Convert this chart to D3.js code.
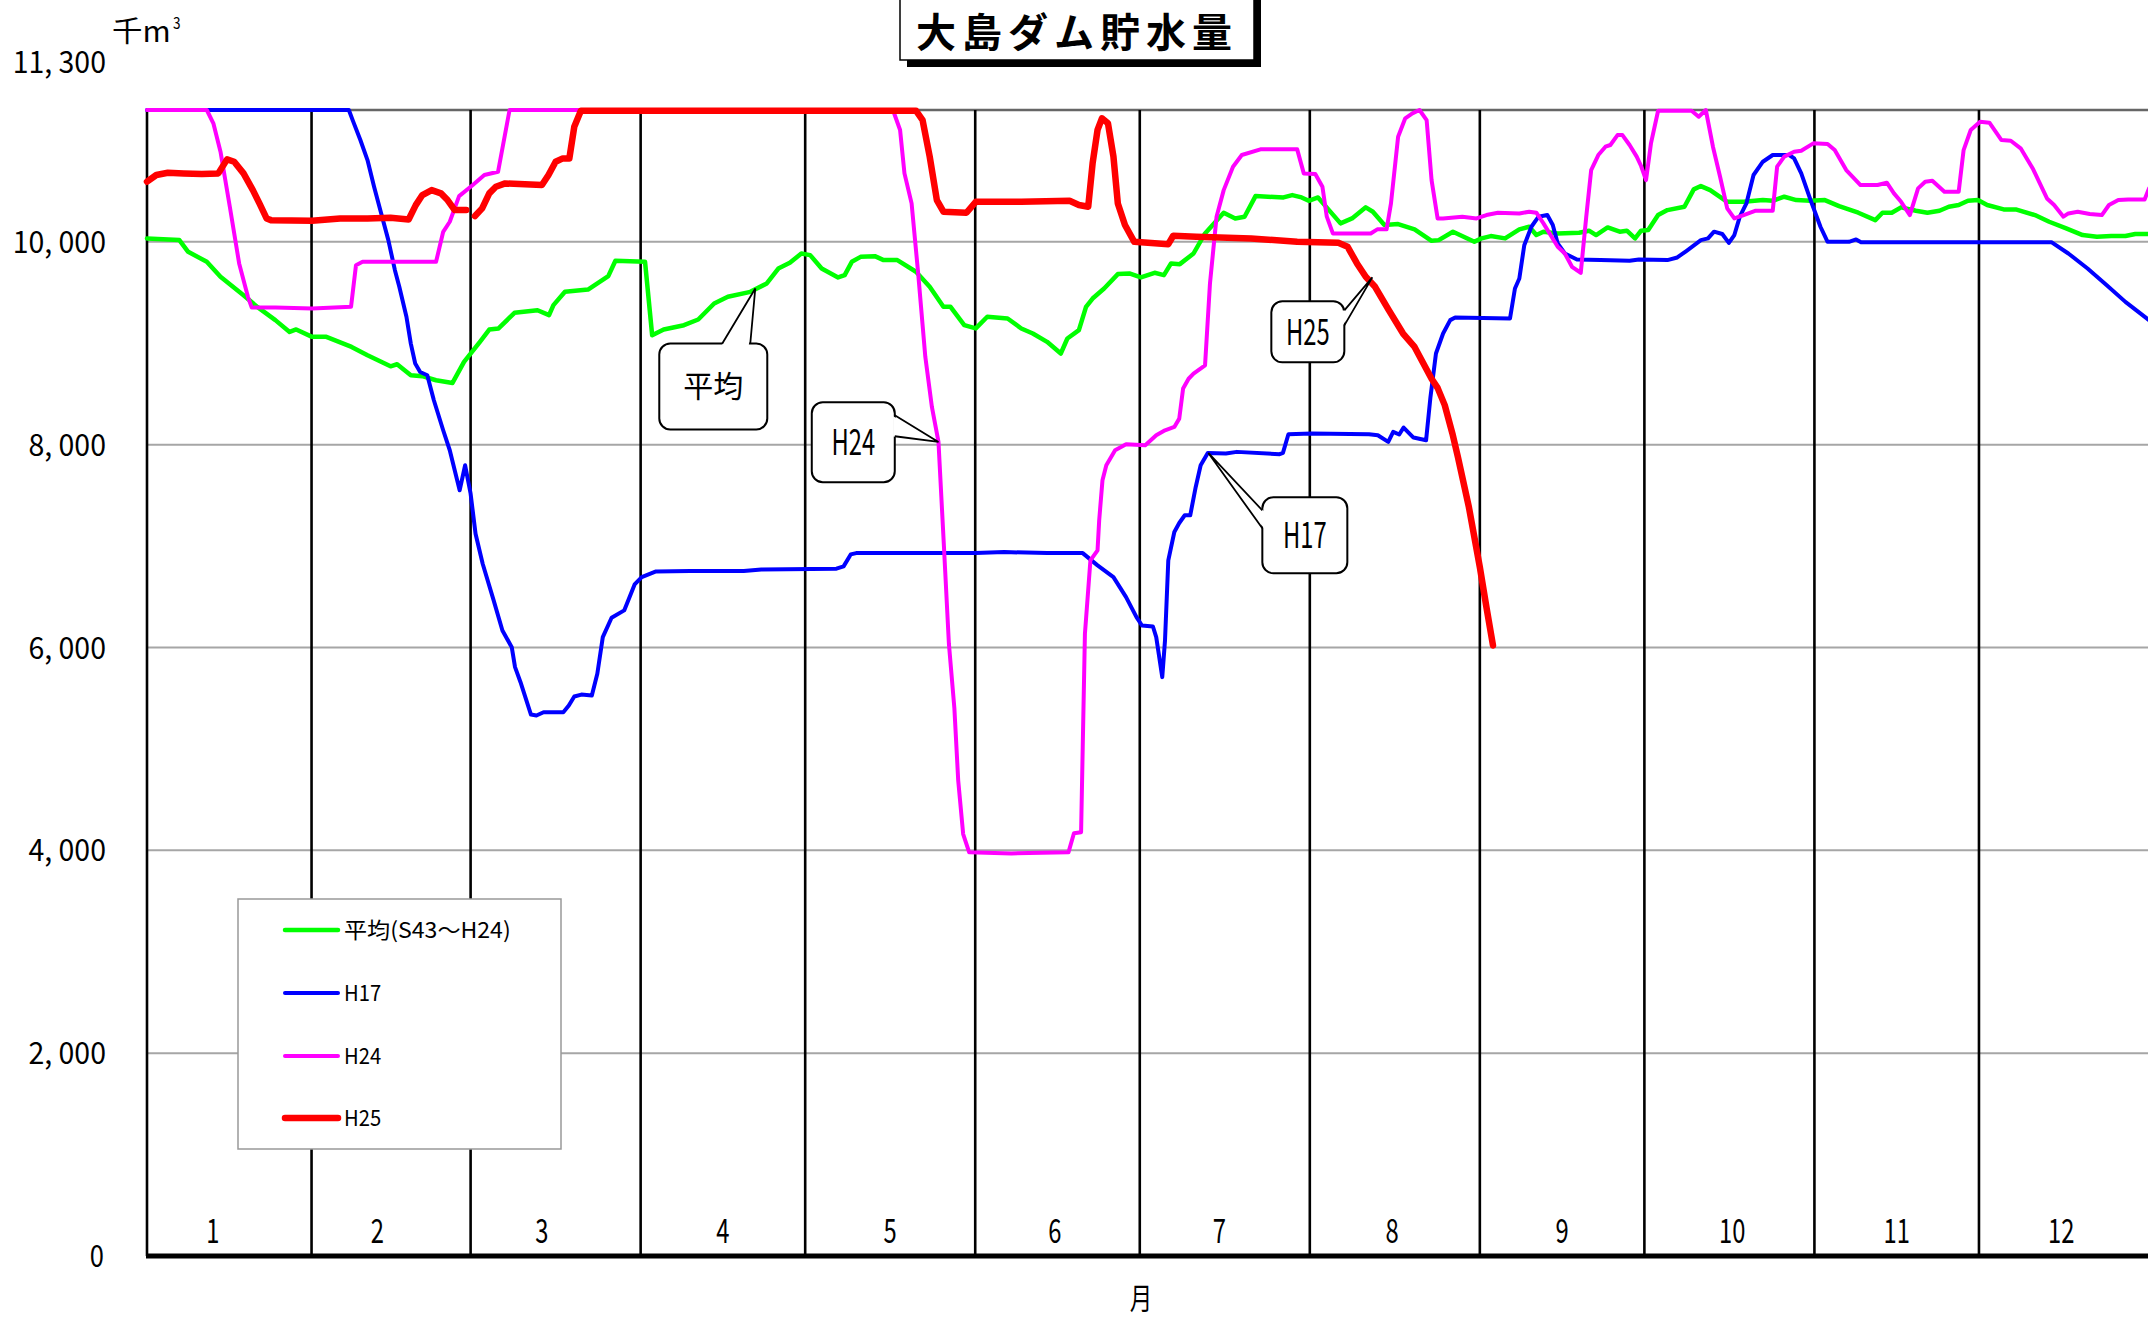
<!DOCTYPE html>
<html><head><meta charset="utf-8">
<script src="https://cdnjs.cloudflare.com/ajax/libs/d3/7.8.5/d3.min.js"></script>
<style>body{margin:0;background:#fff;}svg{display:block;}</style>
</head><body>
<script>
// ---------- DATA ----------
const monthBoundaryDays = [0,30,59,90,120,151,181,212,243,273,304,334];
const monthLabels = ["1","2","3","4","5","6","7","8","9","10","11","12"];
const monthLabelDays = [12,42,72,105,135.5,165.5,195.5,227,258,289,319,349];
const yTicks = [0,2000,4000,6000,8000,10000,11300];

const avgSeries = [[0,10034],[5.9,10017],[7.5,9902],[10.9,9803],[13.4,9655],[17.6,9474],[20.1,9359],[23.4,9228],[26,9112],[27.2,9136],[30.1,9063],[32.7,9063],[37.3,8964],[40.2,8882],[44.4,8773],[45.6,8793],[48.1,8685],[50.2,8675],[52.7,8635],[55.7,8609],[57.8,8816],[60.7,9014],[62.4,9135],[64.1,9146],[67,9300],[71.2,9326],[73.3,9277],[74.1,9376],[76.2,9507],[80.4,9530],[84.1,9662],[85.4,9813],[90.8,9803],[92.1,9079],[94.2,9136],[97.9,9178],[100.5,9234],[103.4,9392],[105.9,9458],[110,9507],[113,9590],[115.1,9737],[117.2,9793],[119.3,9885],[120.9,9869],[123,9737],[126,9649],[127.2,9672],[128.5,9803],[130.1,9852],[132.7,9859],[134.3,9820],[136.8,9820],[140.2,9705],[142.7,9557],[145.2,9359],[146.5,9359],[149,9178],[151.1,9146],[153.2,9261],[156.9,9244],[159.4,9146],[161.5,9096],[164.1,9014],[166.6,8899],[167.8,9047],[169.9,9129],[171.2,9359],[172.4,9441],[174.5,9540],[177,9682],[179.1,9688],[181.2,9649],[183.7,9695],[185.4,9672],[186.7,9787],[188.3,9780],[190.8,9885],[192.9,10083],[196.3,10287],[198.4,10231],[200.1,10248],[202.1,10451],[207.2,10438],[208.8,10461],[210.5,10438],[211.8,10405],[213.5,10438],[215.5,10313],[217.6,10182],[219.7,10231],[222.2,10340],[223.5,10297],[225.6,10166],[228.1,10175],[231.1,10123],[234.2,10010],[235.5,10017],[238.1,10100],[242,10000],[243.3,10034],[245,10057],[247.6,10034],[250.2,10123],[252,10149],[253.3,10067],[254.6,10100],[257.2,10083],[261.1,10090],[262.9,10110],[264.2,10067],[266.3,10142],[268.5,10100],[269.8,10110],[271.3,10034],[272.4,10110],[273.7,10116],[275.5,10264],[277.2,10313],[280.3,10346],[282,10517],[283.3,10550],[285,10510],[288.1,10395],[291.1,10395],[294.6,10412],[296.4,10405],[298.5,10445],[300.7,10412],[303.3,10405],[305.9,10412],[308.5,10352],[312,10287],[315.1,10214],[316.4,10287],[318.1,10287],[319.8,10340],[322.5,10307],[324.6,10287],[326.8,10307],[328.5,10346],[330.3,10363],[332,10405],[333.8,10412],[335.5,10363],[338.5,10320],[340.7,10320],[344.2,10264],[346.8,10198],[349.9,10133],[352.9,10067],[355.5,10050],[358.1,10057],[360.7,10057],[362.5,10077],[365,10077]];

const h17Series = [[0,11300],[36.8,11300],[37.6,11185],[38.9,11004],[40.2,10806],[41.4,10543],[42.7,10280],[44,10017],[45.2,9721],[46,9557],[47.3,9261],[48.1,8997],[48.9,8800],[49.8,8717],[51.1,8685],[52.3,8438],[54,8142],[55.2,7945],[56.1,7747],[57,7550],[58,7797],[59,7517],[59.9,7122],[61.2,6826],[63.2,6464],[64.8,6168],[66.5,6003],[67.1,5806],[68.1,5658],[70,5339],[71,5330],[72.3,5362],[75.9,5362],[76.9,5428],[77.9,5517],[79.2,5536],[81.1,5527],[82.1,5741],[83.1,6102],[84.7,6293],[87,6366],[88.9,6622],[90.2,6694],[92.8,6750],[99,6754],[108.8,6754],[112,6770],[125.7,6777],[127,6800],[128.3,6918],[129.3,6931],[138.1,6931],[151.1,6931],[156.3,6941],[164.1,6931],[170.6,6931],[173.3,6810],[176.2,6694],[178.5,6497],[180.4,6300],[181.4,6217],[183.4,6207],[184,6102],[185.1,5708],[185.6,6069],[186.2,6859],[187.3,7139],[188.2,7228],[189.2,7304],[190.2,7304],[191.2,7583],[192.1,7797],[193.4,7919],[196.7,7913],[198.7,7929],[206.5,7906],[207.1,7919],[208.1,8103],[212.3,8109],[222.8,8103],[224.4,8093],[226.3,8027],[227.2,8126],[228.3,8100],[229.1,8169],[230.9,8070],[233.2,8043],[234,8471],[235,8899],[236.3,9096],[237.6,9228],[238.5,9254],[248.5,9244],[249.4,9540],[250.2,9639],[251.1,9967],[252.4,10149],[253.7,10248],[255.3,10264],[256.3,10166],[257.2,9984],[258.5,9885],[260.7,9826],[265,9820],[270.3,9813],[272,9826],[277.2,9820],[279,9846],[280.7,9912],[283.3,10017],[284.6,10034],[285.7,10100],[287.2,10077],[288.4,9990],[289.4,10067],[290.4,10248],[291.6,10379],[292.9,10659],[294.6,10790],[296.4,10856],[299.4,10856],[300.3,10823],[301.6,10675],[303.3,10412],[305.1,10149],[306.4,10000],[310.3,10000],[311.6,10024],[312.5,9997],[347.2,9997],[350.3,9885],[353.8,9737],[357.3,9573],[360.7,9408],[365,9228]];

const h24Series = [[0,11300],[10.9,11300],[12.1,11169],[13.4,10889],[15.1,10346],[16.8,9787],[18.4,9458],[19.1,9352],[23.4,9352],[30.1,9343],[37.2,9359],[38.1,9770],[39.3,9803],[45.2,9803],[52.7,9803],[54,10099],[55.2,10198],[56.9,10451],[59.4,10560],[61.5,10659],[64,10691],[66.1,11300],[136,11300],[137.3,11103],[138.1,10675],[139.4,10379],[140.6,9688],[141.9,8866],[143.1,8372],[144.3,8027],[145.3,6991],[146.2,6037],[147.2,5400],[147.9,4688],[148.8,4161],[149.9,3980],[157.6,3970],[168,3980],[169,4168],[170.3,4178],[170.6,5017],[171,6135],[172,6859],[173.3,6958],[173.6,7254],[174.2,7649],[174.9,7797],[176.5,7945],[178.5,8004],[182,7994],[184,8093],[185.6,8142],[187.3,8175],[188.2,8257],[188.9,8553],[189.9,8650],[190.8,8701],[192.9,8783],[193.8,9590],[195,10248],[196.3,10510],[198,10741],[199.6,10856],[203,10912],[209.7,10912],[210.9,10675],[213,10669],[214.3,10543],[215.1,10248],[216.2,10083],[223.1,10083],[224.3,10123],[226,10123],[226.8,10379],[228.1,11037],[229.4,11218],[230.7,11267],[232,11300],[233.3,11201],[234.2,10609],[235.3,10231],[236.3,10231],[239.8,10248],[242.4,10231],[244.2,10264],[246.3,10287],[250.2,10280],[252,10297],[253.3,10287],[254.6,10182],[257.2,9951],[258.5,9885],[259.8,9754],[261.4,9695],[262.4,10248],[263.3,10708],[264.6,10856],[265.9,10938],[266.8,10955],[268.1,11053],[269,11053],[270.3,10955],[271.6,10840],[272.4,10748],[273.3,10609],[274.2,10971],[275.5,11293],[281.6,11293],[282.9,11234],[284.2,11300],[285.5,10938],[286.8,10642],[288.1,10330],[289.4,10231],[291.1,10264],[293.3,10307],[296.4,10307],[297.2,10741],[298.5,10840],[300.3,10889],[301.6,10899],[303.8,10971],[306.4,10965],[307.7,10905],[309.8,10708],[312.4,10560],[315.5,10560],[317.2,10583],[318.5,10478],[319.8,10395],[321.4,10264],[322.9,10527],[324.2,10593],[325.5,10603],[327.7,10494],[330.3,10494],[331.2,10905],[332.5,11103],[334.2,11185],[335.9,11175],[338.1,11004],[339.8,10997],[341.6,10922],[343.8,10724],[346.4,10428],[347.7,10363],[349.4,10248],[350.3,10280],[352,10297],[354.2,10274],[356.4,10264],[357.7,10363],[359.4,10412],[361.2,10418],[364.2,10418],[365,10527]];

const h25Series = [[0,10593],[1.7,10659],[3.8,10681],[6.7,10675],[10,10669],[13,10675],[14.6,10813],[15.9,10790],[17.6,10675],[19.3,10510],[20.5,10379],[21.8,10231],[22.6,10214],[30.1,10208],[35.2,10231],[40.2,10231],[44.4,10237],[47.7,10221],[49,10362],[50.2,10461],[51.9,10510],[53.6,10478],[54.8,10412],[56.1,10313],[58.2,10313],[59,null],[59.8,10254],[61.1,10330],[62.4,10478],[63.6,10543],[65.3,10576],[72,10560],[73.2,10659],[74.5,10790],[75.8,10823],[77,10823],[77.9,11135],[79.1,11293],[140.2,11293],[141.4,11201],[142.7,10840],[144,10412],[145.2,10297],[149.4,10287],[151.1,10395],[159.4,10395],[168.2,10405],[169.9,10363],[171.6,10346],[172.4,10774],[173.3,11103],[174.1,11218],[175.2,11169],[176.2,10840],[177,10379],[178.3,10166],[180,10000],[186.2,9977],[187.1,10060],[191.3,10050],[201.3,10034],[209.7,10000],[217.2,9990],[218.9,9951],[220.6,9787],[222.2,9655],[223.9,9557],[226.4,9326],[229,9096],[231.1,8964],[234.2,8650],[235.3,8560],[236.6,8390],[238,8109],[239,7879],[241,7385],[243,6793],[244.2,6398],[245.4,6020]];

const seriesNames = ["平均(S43～H24)","H17","H24","H25"];
const seriesColors = ["#00ff00","#0000ff","#ff00ff","#ff0000"];
const seriesWidths = [4.5,4,4,6.5];
const seriesData = [avgSeries,h17Series,h24Series,h25Series];

// callouts: tip in data space, box / wedge base relative to tip in px
const callouts = [
  {text:"平均", tip:[110.9,9540], box:[-96,55,12,141], base:[[-33,55],[-5,55]], size:30, sx:1},
  {text:"H24", tip:[144.3,8027], box:[-126.7,-39.7,-43.7,40.3], base:[[-43.7,-26.7],[-43.7,-5.7]], size:36, sx:0.66},
  {text:"H17", tip:[193.5,7918], box:[54,44.3,139,120.3], base:[[54,57.3],[54,75.3]], size:36, sx:0.66},
  {text:"H25", tip:[223.4,9650], box:[-101,24,-28,85], base:[[-28,33],[-28,48]], size:36, sx:0.66}
];

// ---------- LAYOUT ----------
const W = 2148, H = 1318;
const FONT = "'Noto Sans CJK JP','Noto Sans',sans-serif";
const x = d3.scaleLinear().domain([0,365]).range([147,2149]);
const y = d3.scaleLinear().domain([0,11300]).range([1256,110]);

const svg = d3.select("body").append("svg").attr("width",W).attr("height",H);

function txt(g, px, py, str, o) {
  const t = g.append("g").attr("transform", `translate(${px},${py}) scale(${o.sx||1},1)`);
  t.append("text").attr("text-anchor", o.anchor||"start")
    .attr("font-family", FONT).attr("font-size", o.size)
    .attr("font-weight", o.weight||400).attr("fill","#000").text(str);
  return t;
}

// gridlines
svg.append("g").selectAll("line").data(yTicks.filter(v=>v>0)).join("line")
  .attr("x1", x(0)).attr("x2", W).attr("y1", d=>y(d)).attr("y2", d=>y(d))
  .attr("stroke", d=> d===11300 ? "#666" : "#a6a6a6").attr("stroke-width", d=> d===11300 ? 2.5 : 2);

// month lines
svg.append("g").selectAll("line").data(monthBoundaryDays).join("line")
  .attr("x1", d=>x(d)).attr("x2", d=>x(d)).attr("y1", y(11300)).attr("y2", y(0))
  .attr("stroke", "#000").attr("stroke-width", 2.6);

// bottom axis
svg.append("line").attr("x1", x(0)-1).attr("x2", W).attr("y1", y(0)).attr("y2", y(0))
  .attr("stroke","#000").attr("stroke-width",5);

// y tick labels
const fmt = v => d3.format(",")(v).replace(",", ", ");
yTicks.forEach(v => {
  const py = v === 11300 ? 62 : y(v);
  txt(svg, v===0 ? 104 : 106, py + 11, fmt(v), {size:30, sx: v===0 ? 0.85 : 0.95, anchor:"end"});
});

// unit label
txt(svg, 112, 42, "千m", {size:29, sx:1.05});
txt(svg, 173, 29, "3", {size:16, sx:0.85});

// month labels
monthLabels.forEach((m,i) => txt(svg, x(monthLabelDays[i]), 1243, m, {size:34, sx:0.7, anchor:"middle"}));
txt(svg, 1141, 1309, "月", {size:30, sx:0.75, anchor:"middle"});

// series lines
const line = d3.line().defined(d => d[1] !== null).x(d => x(d[0])).y(d => y(d[1]));
seriesData.forEach((s,i) => {
  svg.append("path").datum(s).attr("d", line).attr("fill","none")
    .attr("stroke", seriesColors[i]).attr("stroke-width", seriesWidths[i])
    .attr("stroke-linejoin","round").attr("stroke-linecap","round");
});

// legend
const lg = svg.append("g");
lg.append("rect").attr("x",238).attr("y",899).attr("width",323).attr("height",250)
  .attr("fill","#fff").attr("stroke","#999").attr("stroke-width",1.5);
const legendY = [930,993,1056,1118];
seriesNames.forEach((n,i) => {
  lg.append("line").attr("x1",285).attr("x2",338).attr("y1",legendY[i]).attr("y2",legendY[i])
    .attr("stroke",seriesColors[i]).attr("stroke-width",seriesWidths[i]).attr("stroke-linecap","round");
  txt(lg, 344, legendY[i]+8, n, {size:22, sx: i===0 ? 1.05 : 0.92});
});

// callouts
callouts.forEach(c => {
  const tx = x(c.tip[0]), ty = y(c.tip[1]);
  const g = svg.append("g");
  const [bx0,by0,bx1,by1] = c.box;
  g.append("rect").attr("x",tx+bx0).attr("y",ty+by0).attr("width",bx1-bx0).attr("height",by1-by0)
    .attr("rx",11).attr("ry",11).attr("fill","#fff").attr("stroke","#000").attr("stroke-width",2);
  const b1 = [tx+c.base[0][0], ty+c.base[0][1]], b2 = [tx+c.base[1][0], ty+c.base[1][1]];
  const cx = tx + (bx0+bx1)/2, cy = ty + (by0+by1)/2;
  const inset = p => [p[0] + (cx-p[0])*0.04, p[1] + (cy-p[1])*0.04];
  g.append("path").attr("d", d3.line()([inset(b1),[tx,ty],inset(b2)]) + "Z").attr("fill","#fff");
  g.append("path").attr("d", d3.line()([b1,[tx,ty],b2])).attr("fill","none")
    .attr("stroke","#000").attr("stroke-width",1.8).attr("stroke-linejoin","miter");
  txt(g, cx, cy + c.size*0.36, c.text, {size:c.size, sx:c.sx, anchor:"middle"});
});

// title
svg.append("rect").attr("x",907).attr("y",-10).attr("width",354).attr("height",77).attr("fill","#000");
svg.append("rect").attr("x",900).attr("y",-10).attr("width",354).attr("height",70)
  .attr("fill","#fff").attr("stroke","#000").attr("stroke-width",1.5);
svg.append("text").attr("x",1077).attr("y",46.5).attr("text-anchor","middle")
  .attr("font-family",FONT).attr("font-size",40).attr("font-weight",700)
  .attr("letter-spacing",6).text("大島ダム貯水量");
</script>
</body></html>
